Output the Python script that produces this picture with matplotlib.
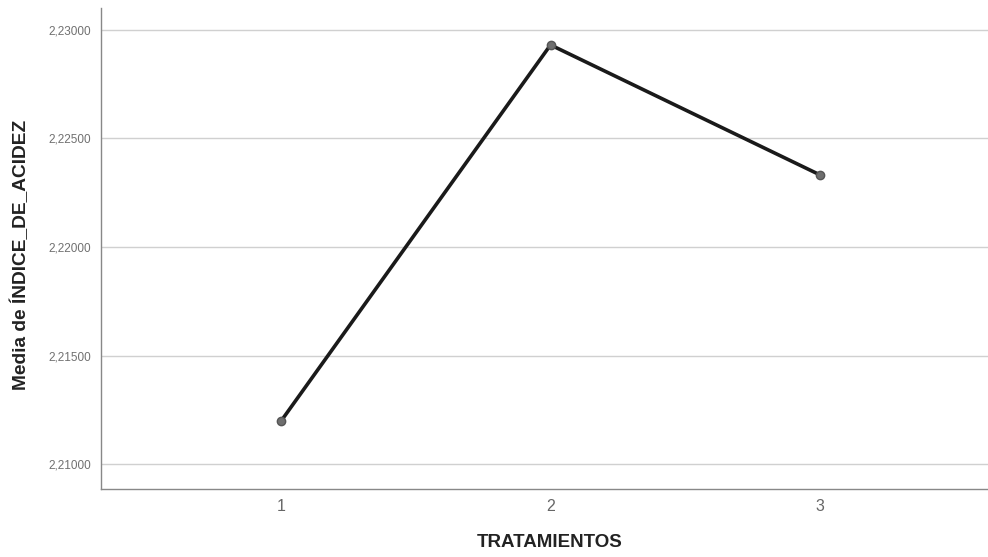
import matplotlib.pyplot as plt
from matplotlib.ticker import FuncFormatter

plt.rcParams['font.family'] = ['Liberation Sans', 'DejaVu Sans']

# Means per treatment
tratamientos = [1, 2, 3]
media_acidez = [2.21198, 2.22931, 2.22332]
y_ticks = [2.210, 2.215, 2.220, 2.225, 2.230]

fig = plt.figure(figsize=(9.88, 5.57), dpi=100)
ax = fig.add_axes([0.1022, 0.122, 0.8978, 0.8636])

ax.plot(tratamientos, media_acidez, color='#1a1a1a', linewidth=2.6, zorder=3)
ax.plot(tratamientos, media_acidez, 'o', color='#6e6e6e', markersize=6,
        markeredgecolor='#555555', zorder=4)

ax.set_xlim(0.332, 3.623)
ax.set_ylim(2.20885, 2.23101)
ax.set_xticks(tratamientos)
ax.set_yticks(y_ticks)
ax.yaxis.set_major_formatter(FuncFormatter(lambda v, p: f"{v:.5f}".replace('.', ',')))

ax.grid(axis='y', color='#d0d0d0', linewidth=1.0)
ax.set_axisbelow(True)
for s in ['top', 'right']:
    ax.spines[s].set_visible(False)
for s in ['left', 'bottom']:
    ax.spines[s].set_color('#888888')
    ax.spines[s].set_linewidth(1.0)

ax.tick_params(axis='both', length=0)
ax.tick_params(axis='y', labelsize=8.5, labelcolor='#707070', pad=7)
ax.tick_params(axis='x', labelsize=11.5, labelcolor='#666666', pad=7)

ax.set_xlabel('TRATAMIENTOS', fontsize=13.5, fontweight='bold', color='#222222')
ax.set_ylabel('Media de ÍNDICE_DE_ACIDEZ', fontsize=13.8, fontweight='bold', color='#222222')
ax.xaxis.set_label_coords(0.506, -0.093)
ax.yaxis.set_label_coords(-0.080, 0.486)

fig.savefig('out.png', dpi=100)
